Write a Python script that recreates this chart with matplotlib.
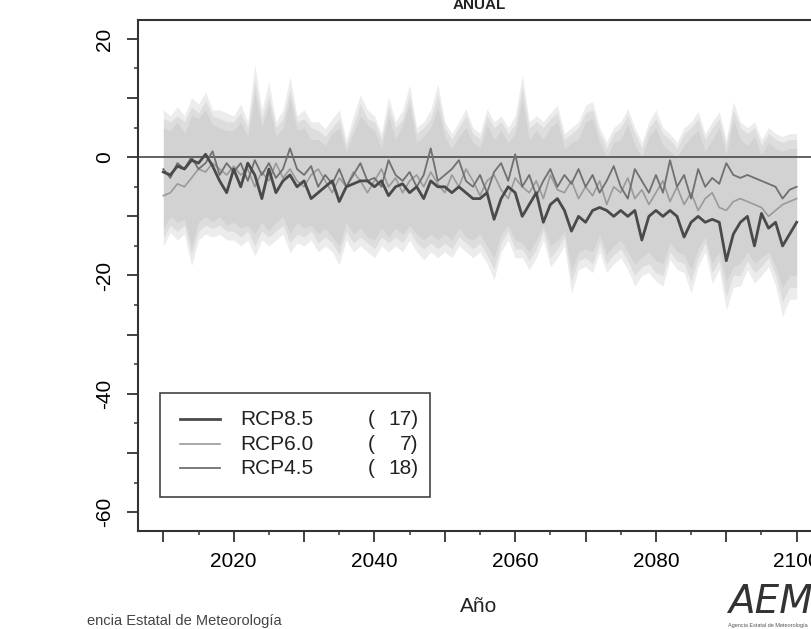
import matplotlib
matplotlib.use('Agg')
import matplotlib.pyplot as plt
from matplotlib.patches import Rectangle
import numpy as np

plt.rcParams['font.family'] = ['Liberation Sans', 'DejaVu Sans']

years = np.arange(2010, 2101)

# central lines (anomaly, %)
rcp85 = [-2.5, -3, -1.5, -2, -0.5, -1, 0.5, -1.5, -4, -6,
         -2, -5, -1, -3, -7, -2, -6, -4, -3, -5,
         -4, -7, -6, -5, -4, -7.5, -5, -4.5, -4, -4,
         -5, -4, -6.5, -5, -4.5, -6, -5, -7, -4, -5,
         -5, -6, -5, -6, -7, -7, -6, -10.5, -7, -5,
         -6, -10, -8, -6, -11, -8, -7, -9, -12.5, -10,
         -11, -9, -8.5, -9, -10, -9, -10, -9, -14, -10,
         -9, -10, -9, -10, -13.5, -11, -10, -11, -10.5, -11,
         -17.5, -13, -11, -10, -15, -9.5, -12, -11, -15, -13,
         -11]
rcp60 = [-6.5, -6, -4.5, -5, -3.5, -2, -2.5, -1, -2, -3,
         -1.5, -3, -2, -5, -2.5, -4, -1, -3.5, -2, -4,
         -5, -3, -2, -4, -6, -3.5, -5, -2.5, -4, -6,
         -4, -2, -5, -3.5, -6, -4, -3, -5, -2.5, -4.5,
         -6, -3, -5, -2, -4, -6.5, -4, -3, -5.5, -7,
         -3.5, -5, -6, -4, -7, -3, -5.5, -6, -4, -7,
         -5, -6.5, -4, -8, -5, -6, -3.5, -7, -5.5, -8,
         -6, -4, -7.5, -5, -8, -6, -9, -7, -6, -8.5,
         -9, -7.5, -7, -7.5, -8, -8.5, -10, -9, -8, -7.5,
         -7]
rcp45 = [-2, -3.5, -1, -2, 0, -2, -1, 1, -3, -1,
         -2.5, -1, -4, -0.5, -3, -1, -3.5, -2, 1.5, -2,
         -3, -1.5, -5, -3, -4.5, -2, -5, -3, -1, -4,
         -3.5, -5, -0.5, -3, -4, -2.5, -5, -3, 1.5, -4,
         -3, -2, -0.5, -4, -5, -3, -6, -2.5, -1, -4,
         0.5, -5, -3, -6.5, -4, -2, -5, -3, -4.5, -2,
         -5, -3, -6, -4, -1.5, -5, -7, -2, -4, -6,
         -3, -6, -0.5, -5, -3, -7, -2, -5, -3.5, -4.5,
         -1, -3, -3.5, -3, -3.5, -4, -4.5, -5, -7, -5.5,
         -5]

# spread of each ensemble (upper / lower)
up85 = [5, 4.5, 6, 4, 7, 6.5, 8, 5.5, 5, 4.5,
        4.5, 6, 3.5, 11, 5, 9, 3.5, 5, 10, 4.5,
        5, 3, 3, 2, 4, 5, 1, 4, 7, 5.5,
        4.5, 1.5, 7, 3, 5.5, 9, 2.5, 3.5, 5, 8.5,
        3.5, 1.5, 3.5, 5, 2.5, 1.5, 5.5, 3, 4.5, 2.5,
        4, 10, 3, 4.5, 3, 5, 6, 1.5, 2.5, 3,
        6, 6.5, 2.5, 0, 2.5, 3, 5.5, 2, 0, 3.5,
        5, 2, 1, 0, 2, 3.5, 4.5, 1, 3, 5,
        0.5, 6.5, 3, 2, 3.5, 0.5, 2.5, 1.5, 1, 1.5,
        1.5]
lo85 = [-15, -12.7, -14, -13, -18.4, -14, -13, -13.5, -13, -14,
        -14, -15, -14, -16.7, -14, -15, -14, -13, -16.2, -14.5,
        -15, -14, -16, -15, -16, -18.2, -14, -16, -15, -16,
        -17, -15, -16, -15, -16, -14, -16, -17.4, -16, -17,
        -16, -17, -15, -16, -17, -16, -17.9, -20.7, -16, -14,
        -17, -17, -19, -17, -14, -18.5, -17, -15, -23, -19,
        -18.5, -19.5, -16, -19.5, -18, -17, -19, -21.8, -20, -19.5,
        -21, -21.8, -17.3, -19, -19.5, -23, -18.5, -16, -21.3, -19,
        -25.9, -22, -21.8, -19, -21.3, -20, -18.5, -21.8, -26.9, -24,
        -24]
up60 = [6.5, 6, 7, 6, 8.5, 7.5, 9.5, 7, 6.5, 6,
        6, 7.5, 5, 13, 6.5, 10.5, 5, 6.5, 11.5, 6,
        6.5, 5, 4.5, 3.5, 5, 6.5, 2, 5.5, 9, 6.5,
        6, 3, 8.5, 5, 6.5, 10.5, 4, 5, 6.5, 10.5,
        5, 3, 5, 7, 4, 3, 7, 5, 6, 4,
        5.5, 12, 5, 6, 5, 6.5, 7.5, 3, 4, 5,
        7.5, 8, 4, 1.5, 4, 5, 7, 4, 1.5, 5,
        6.5, 4, 3, 1.5, 4, 5, 6.5, 3, 5, 6.5,
        2, 8, 5, 4, 5, 2, 4, 3, 2.5, 3,
        3]
lo60 = [-13.5, -11.5, -12.5, -11.5, -16.5, -12.5, -11.5, -12, -11.5, -12.5,
        -12.5, -13.5, -12.5, -15, -12.5, -13.5, -12.5, -11.5, -14.5, -13,
        -13.5, -12.5, -14.5, -13.5, -14.5, -16.5, -12.5, -14.5, -13.5, -14.5,
        -15.5, -13.5, -14.5, -13.5, -14.5, -12.5, -14.5, -15.5, -14.5, -15.5,
        -14.5, -15.5, -13.5, -14.5, -15.5, -14.5, -16.5, -19, -14.5, -12.5,
        -15.5, -15.5, -17.5, -15.5, -12.5, -17, -15.5, -13.5, -21, -17.5,
        -17, -18, -14.5, -18, -16.5, -15.5, -17.5, -20, -18.5, -18,
        -19.5, -20, -16, -17.5, -18, -21, -17, -14.5, -19.5, -17.5,
        -23.5, -20, -20, -17.5, -19.5, -18.5, -17, -20, -24.5, -22,
        -22]
up45 = [8, 7, 8.5, 7, 10, 9, 11, 8, 8, 7.5,
        7, 9, 6, 15.6, 8, 12.8, 6, 8, 13.6, 7,
        8, 6, 6, 4.8, 6.5, 8, 3, 7, 10.5, 8,
        7, 4, 10.2, 6, 8, 12.2, 5, 6, 8, 12.4,
        6, 4, 6, 8.2, 5, 4, 8.2, 6, 7, 5,
        7, 14, 6, 7, 6, 7.5, 8.8, 4, 5, 6,
        8.8, 9.4, 5, 2.6, 5, 6, 8.2, 5, 2.5, 6,
        8, 5, 4, 2.5, 5, 6, 7.7, 4, 6, 7.7,
        3, 9.4, 6, 5, 6, 3, 5, 4, 3.5, 4,
        4]
lo45 = [-12, -10, -11, -10.5, -15, -11, -10, -11, -10, -11.5,
        -11, -12, -11.5, -13, -11, -12.5, -11, -10, -13, -11,
        -12, -11.5, -13, -12, -13.5, -15, -11, -13, -12, -13.5,
        -14, -12, -13.5, -12, -13, -11.5, -13, -14, -13, -14,
        -13, -14, -12, -13.5, -14, -13, -15, -17, -13, -11.5,
        -14, -14.5, -16, -14, -11.5, -15, -14, -12.5, -19, -16,
        -15.5, -16, -13, -16.5, -15, -14, -16, -18, -17, -16,
        -17.5, -18, -14.5, -16, -16.5, -19, -15.5, -13.5, -18, -16,
        -21, -18.5, -18, -16, -18, -17, -16, -18.5, -22, -20,
        -20]

labels = ['RCP8.5', 'RCP6.0', 'RCP4.5']
counts = ['17)', '7)', '18)']
line_cols = ['#4a4a4a', '#9a9a9a', '#707070']
line_w = [2.0, 1.2, 1.3]

xticks = list(range(2010, 2101, 10))
xlabs = ['' if t % 20 else str(t) for t in xticks]
yticks = list(range(-60, 21, 10))
ylabs = ['' if t % 20 else str(t) for t in yticks]

fig = plt.figure(figsize=(8.11, 6.29), dpi=100)
ax = fig.add_axes([138/811, 1-531/629, 684/811, 511/629])

for up, lo in [(up85, lo85), (up60, lo60), (up45, lo45)]:
    ax.fill_between(years, lo, up, color='#b0b0b0', alpha=0.24, lw=0)

ax.axhline(0, color='#555555', lw=1.3)

ax.plot(years, rcp60, color=line_cols[1], lw=line_w[1])
ax.plot(years, rcp45, color=line_cols[2], lw=line_w[2])
ax.plot(years, rcp85, color=line_cols[0], lw=line_w[0])

ax.set_xlim(2006.4, 2103.6)
ax.set_ylim(-63.2, 23.2)
ax.set_xticks(xticks)
ax.set_xticklabels(xlabs, fontsize=15)
ax.set_xticks(range(2015, 2101, 10), minor=True)
ax.set_yticks(yticks)
ax.set_yticklabels(ylabs, fontsize=15, rotation=90, va='center')
ax.set_yticks(range(-55, 21, 10), minor=True)
ax.tick_params(which='major', length=8, width=1.3, color='#333333', pad=7)
ax.tick_params(which='minor', length=3, width=1.1, color='#333333')
ax.tick_params(axis='y', which='major', pad=9)
for s in ax.spines.values():
    s.set_color('#333333')
    s.set_linewidth(1.5)

# legend drawn by hand to keep the two columns
ax.add_patch(Rectangle((0.032, 0.0665), 0.395, 0.2035, transform=ax.transAxes,
                       fill=False, ec='#444444', lw=1.2))
row_y = [0.219, 0.170, 0.123]
for i in range(3):
    ax.plot([0.061, 0.120], [row_y[i], row_y[i]], transform=ax.transAxes,
            color=line_cols[i], lw=line_w[i])
    ax.text(0.149, row_y[i], labels[i], transform=ax.transAxes, fontsize=15,
            va='center', ha='left', color='#222222')
    ax.text(0.336, row_y[i], '(', transform=ax.transAxes, fontsize=15,
            va='center', ha='left', color='#222222')
    ax.text(0.410, row_y[i], counts[i], transform=ax.transAxes, fontsize=15,
            va='center', ha='right', color='#222222')

fig.text(479/811, 1-9/629, 'ANUAL', ha='center', va='baseline', fontsize=11,
         weight='bold', color='#222222')
fig.text(479/811, 1-606/629, 'Año', ha='center', va='center', fontsize=15,
         color='#222222')
fig.text(87/811, 1-621/629, 'encia Estatal de Meteorología', ha='left',
         va='center', fontsize=10.5, color='#444444')
fig.text(728/811, 1-613/629, 'AEMET', ha='left', va='baseline', fontsize=28,
         style='italic', color='#333333', family='DejaVu Sans', weight='light')
fig.text(728/811, 1-625/629, 'Agencia Estatal de Meteorología', ha='left',
         va='center', fontsize=4, color='#555555')

fig.savefig('out.png', dpi=100)
